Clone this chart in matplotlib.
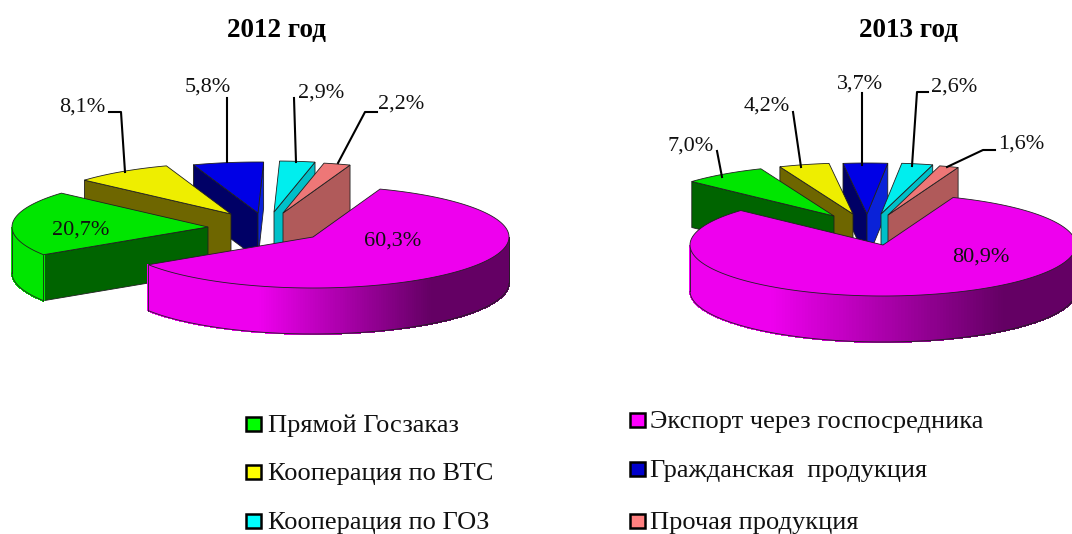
#!/usr/bin/env python3
# -*- coding: utf-8 -*-
import numpy as np
import matplotlib
matplotlib.use("Agg")
import matplotlib.pyplot as plt
from matplotlib.colors import to_rgb
from matplotlib.patches import Rectangle

plt.rcParams["font.family"] = ["Liberation Serif", "DejaVu Serif"]

# данные, в порядке от главного сектора по часовой стрелке
categories = ["Экспорт через госпосредника", "Прямой Госзаказ", "Кооперация по ВТС",
              "Гражданская  продукция", "Кооперация по ГОЗ", "Прочая продукция"]
values_2012 = [60.3, 20.7, 8.1, 5.8, 2.9, 2.2]
values_2013 = [80.9, 7.0, 4.2, 3.7, 2.6, 1.6]

# цвета: верх, левый срез, правый срез
top_colors = ["#ee00ee", "#00e600", "#eeee00", "#0000e6", "#00eeee", "#ee7777"]
hi_faces = ["#660066", "#006400", "#6e6600", "#000066", "#00a0a8", "#904848"]
lo_faces = ["#660066", "#006400", "#6e6600", "#0a22d8", "#00c0c8", "#b05a5a"]
legend_colors = ["#ff00ff", "#00ff00", "#ffff00", "#0000cc", "#00ffff", "#ff8080"]
wall_dark = "#640064"

RY, DEPTH = 51, 46

fig = plt.figure(figsize=(10.72, 5.34), dpi=100)
ax = fig.add_axes([0, 0, 1, 1])
ax.set_xlim(0, 1072)
ax.set_ylim(534, 0)
ax.axis("off")


def mix(c1, c2, k):
    a, b = np.array(to_rgb(c1)), np.array(to_rgb(c2))
    return tuple(a + (b - a) * k)


def draw_pie(values, center, rx, start_deg, explode, grad):
    cx, cy = center
    # границы секторов идут по часовой стрелке от start_deg
    edges = start_deg - np.cumsum([0] + values) * 3.6
    wedges = []
    for i in range(len(values)):
        wedges.append((i, edges[i + 1], edges[i]))
    # порядок рисования: сзади вперед
    order = [3, 4, 5, 2, 1, 0]
    for i, lo, hi in [wedges[k] for k in order]:
        ox, oy = cx + explode[i][0], cy + explode[i][1]
        t = np.radians(np.linspace(lo, hi, 300))
        xs = ox + rx * np.cos(t)
        ys = oy - RY * np.sin(t)
        edge = "#202020"

        # срезы сектора
        if np.cos(np.radians(hi)) < 0:
            ax.fill([xs[-1], ox, ox, xs[-1]], [ys[-1], oy, oy + DEPTH, ys[-1] + DEPTH],
                    fc=hi_faces[i], ec=edge, lw=0.6, zorder=1)
        if np.cos(np.radians(lo)) > 0:
            ax.fill([xs[0], ox, ox, xs[0]], [ys[0], oy, oy + DEPTH, ys[0] + DEPTH],
                    fc=lo_faces[i], ec=edge, lw=0.6, zorder=1)

        # внешняя стенка с градиентом
        front = np.sin(t) < 0
        if front.any():
            fx, fy = xs[front], ys[front]
            for j in range(len(fx) - 1):
                if i == 0:
                    k = np.clip(((fx[j] - ox) / rx - grad[0]) / (grad[1] - grad[0]), 0, 1)
                    col = mix(top_colors[i], wall_dark, k)
                else:
                    col = top_colors[i]
                ax.fill([fx[j], fx[j + 1], fx[j + 1], fx[j]],
                        [fy[j], fy[j + 1], fy[j + 1] + DEPTH, fy[j] + DEPTH],
                        fc=col, ec=col, lw=0.8, antialiased=False, zorder=1)
            ax.plot(fx, fy + DEPTH, color=edge, lw=0.6, zorder=1)
            ax.plot([fx[0], fx[0]], [fy[0], fy[0] + DEPTH], color=edge, lw=0.6, zorder=1)
            ax.plot([fx[-1], fx[-1]], [fy[-1], fy[-1] + DEPTH], color=edge, lw=0.6, zorder=1)

        # верхняя грань
        ax.fill(np.r_[ox, xs], np.r_[oy, ys], fc=top_colors[i], ec=edge, lw=0.6, zorder=1)


def pct(v):
    return f"{v:.1f}".replace(".", ",") + "%"


explode_2012 = [(0, 0), (-105, -10), (-82, -23), (-55, -24), (-39, -25), (-30, -24)]
explode_2013 = [(0, 0), (-49, -29), (-30, -31), (-16, -31), (-2, -31), (5, -30)]

draw_pie(values_2012, (313, 237), 196, 70, explode_2012, (-0.28, 0.6))
draw_pie(values_2013, (883, 245), 193, 68.7, explode_2013, (-0.58, 0.62))

# подписи значений
label_pos_2012 = [(393, 241), (81, 230), (82, 107), (208, 87), (321, 93), (401, 104)]
label_pos_2013 = [(981, 257), (691, 146), (767, 106), (860, 84), (954, 87), (1021, 144)]
for vals, poss in [(values_2012, label_pos_2012), (values_2013, label_pos_2013)]:
    for v, (x, y) in zip(vals, poss):
        ax.text(x, y, pct(v), fontsize=16, color="#111111", ha="center", va="center", zorder=3)

# выноски
leaders = [
    [(109, 112), (121, 112), (125, 172)],
    [(227, 98), (227, 162)],
    [(294, 98), (296, 162)],
    [(377, 112), (365, 112), (338, 163)],
    [(717, 151), (722, 177)],
    [(793, 112), (801, 167)],
    [(862, 93), (862, 165)],
    [(928, 92), (917, 92), (912, 166)],
    [(995, 150), (983, 150), (947, 167)],
]
for pts in leaders:
    ax.plot([p[0] for p in pts], [p[1] for p in pts], color="black", lw=1.5, zorder=2)

ax.text(276, 30, "2012 год", fontsize=19.5, fontweight="bold", ha="center", va="center")
ax.text(908, 30, "2013 год", fontsize=19.5, fontweight="bold", ha="center", va="center")

# легенда: индекс категории, x квадрата, x текста, y
legend_items = [
    (1, 246, 268, 424),
    (2, 246, 268, 472),
    (4, 246, 268, 521),
    (0, 630, 650, 420),
    (3, 630, 650, 469),
    (5, 630, 650, 521),
]
for idx, bx, tx, y in legend_items:
    ax.add_patch(Rectangle((bx, y - 7), 15, 14, fc=legend_colors[idx], ec="black", lw=1.8, zorder=2))
    ax.text(tx, y + 2, categories[idx], fontsize=19, color="#111111", ha="left", va="center")

fig.savefig("out.png", dpi=100)
plt.close(fig)
